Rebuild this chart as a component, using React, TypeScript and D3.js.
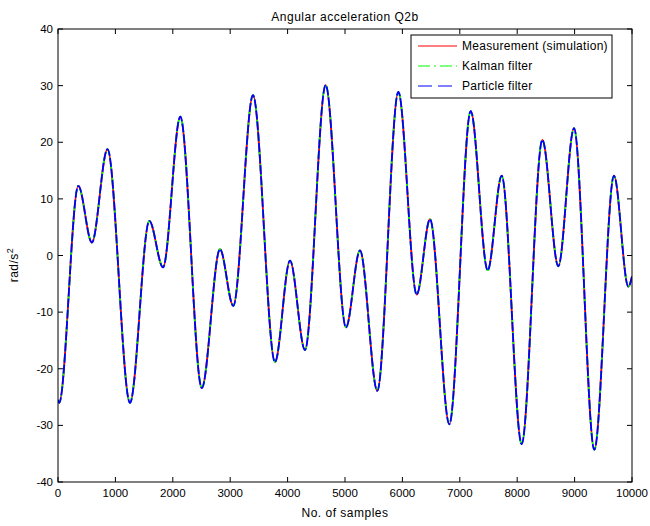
import React from "react";
import * as d3 from "d3";

const W = 650;
const H = 526;

const titleText = "Angular acceleration Q2b";
const xLabel = "No. of samples";
const xTicks = [0, 1000, 2000, 3000, 4000, 5000, 6000, 7000, 8000, 9000, 10000];
const yTicks = [-40, -30, -20, -10, 0, 10, 20, 30, 40];

const legendNames = ["Measurement (simulation)", "Kalman filter", "Particle filter"];
const legendColors = ["#ff0000", "#00ff00", "#0000ff"];

// sample index of key points (extrema)
const sampleIdx = [
  0, 20, 354, 590, 862, 1254, 1591, 1830, 2131, 2505, 2822, 3054, 3397, 3780,
  4042, 4303, 4663, 5017, 5261, 5563, 5929, 6249, 6481, 6818, 7190, 7486,
  7730, 8078, 8438, 8716, 8990, 9344, 9686, 9936, 10000,
];
const measurement = [
  -25.5, -26, 12.3, 2.3, 18.8, -26, 6.1, -2.1, 24.5, -23.4, 1.1, -8.9, 28.3,
  -18.8, -0.9, -16.7, 30.1, -12.7, 0.9, -23.9, 28.9, -6.9, 6.4, -29.8, 25.5,
  -2.6, 14.1, -33.3, 20.4, -1.9, 22.5, -34.3, 14.1, -5.5, -3.7,
];
const kalman = measurement.slice();
const particle = measurement.slice();

const margin = { left: 58, right: 18, top: 29, bottom: 44 };

export default function App() {
  const x = d3.scaleLinear().domain([0, 10000]).range([margin.left, W - margin.right]);
  const y = d3.scaleLinear().domain([-40, 40]).range([H - margin.bottom, margin.top]);
  const [x0, x1] = x.range();
  const [yb, yt] = y.range();

  const mk = (vals: number[]) =>
    d3
      .line<number>()
      .x((_, i) => x(sampleIdx[i]))
      .y((v) => y(v))
      .curve(d3.curveMonotoneX)(vals) || "";

  const font = "'Liberation Sans', Arial, sans-serif";
  const tl = 5;
  const ls = 0.5;

  const lx = 411, ly = 35, lw = 201, lh = 63;

  return (
    <svg
      width={W}
      height={H}
      style={{ position: "absolute", left: 0, top: 0, background: "#fff" }}
      fontFamily={font}
    >
      <rect x={0} y={0} width={W} height={H} fill="#fff" />
      <defs>
        <clipPath id="plotclip">
          <rect x={x0} y={yt} width={x1 - x0} height={yb - yt} />
        </clipPath>
      </defs>
      {/* series */}
      <g clipPath="url(#plotclip)" fill="none" strokeWidth={1.8}>
        <path d={mk(measurement)} stroke={legendColors[0]} />
        <path d={mk(kalman)} stroke={legendColors[1]} strokeDasharray="7,3,2,3" />
        <path d={mk(particle)} stroke={legendColors[2]} strokeDasharray="9,2" />
      </g>
      {/* box */}
      <rect x={x0} y={yt} width={x1 - x0} height={yb - yt} fill="none" stroke="#000" strokeWidth={1} />
      {/* x ticks */}
      {xTicks.map((t) => (
        <g key={"x" + t}>
          <line x1={x(t)} x2={x(t)} y1={yb} y2={yb - tl} stroke="#000" />
          <line x1={x(t)} x2={x(t)} y1={yt} y2={yt + tl} stroke="#000" />
          <text x={x(t)} y={yb + 15} fontSize={11.5} textAnchor="middle">
            {t}
          </text>
        </g>
      ))}
      {/* y ticks */}
      {yTicks.map((t) => (
        <g key={"y" + t}>
          <line x1={x0} x2={x0 + tl} y1={y(t)} y2={y(t)} stroke="#000" />
          <line x1={x1} x2={x1 - tl} y1={y(t)} y2={y(t)} stroke="#000" />
          <text x={x0 - 5} y={y(t) + 4} fontSize={11.5} textAnchor="end">
            {t}
          </text>
        </g>
      ))}
      {/* title & labels */}
      <text x={(x0 + x1) / 2} y={21} fontSize={12} letterSpacing={ls} textAnchor="middle">
        {titleText}
      </text>
      <text x={(x0 + x1) / 2} y={517} fontSize={12} letterSpacing={ls} textAnchor="middle">
        {xLabel}
      </text>
      <text transform="translate(18,265) rotate(-90)" fontSize={12} letterSpacing={ls} textAnchor="middle">
        rad/s
        <tspan dy={-5} fontSize={9}>
          2
        </tspan>
      </text>
      {/* legend */}
      <rect x={lx} y={ly} width={lw} height={lh} fill="#fff" stroke="#000" strokeWidth={1} />
      {legendNames.map((n, i) => {
        const yy = ly + 11 + i * 20;
        const dash = i === 0 ? undefined : i === 1 ? "12,4,2,4" : "14,6";
        return (
          <g key={n}>
            <line x1={lx + 7} x2={lx + 46} y1={yy} y2={yy} stroke={legendColors[i]} strokeWidth={1.2} strokeDasharray={dash} />
            <text x={lx + 51} y={yy + 4} fontSize={12} letterSpacing={0.3}>
              {n}
            </text>
          </g>
        );
      })}
    </svg>
  );
}
